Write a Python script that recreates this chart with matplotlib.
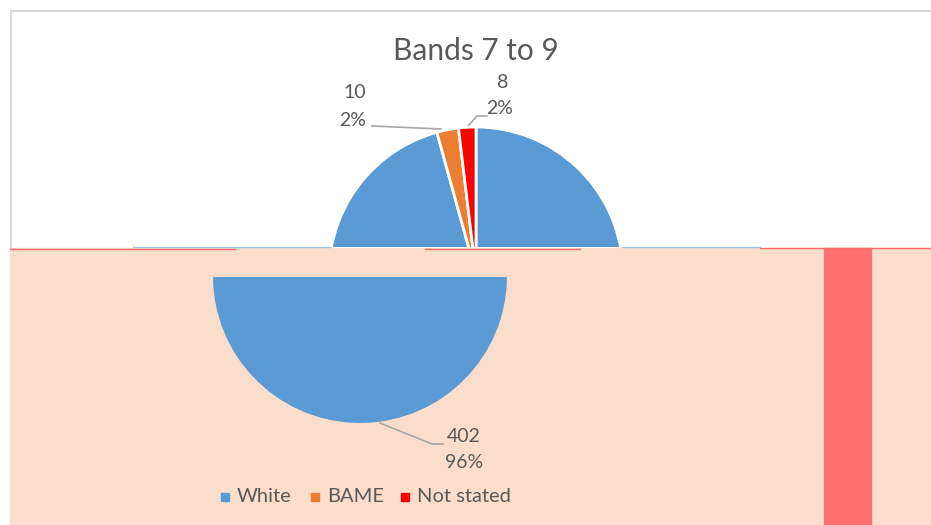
import matplotlib
matplotlib.use('Agg')
import matplotlib.pyplot as plt
from matplotlib.patches import Rectangle

# data
categories = ['White', 'BAME', 'Not stated']
counts = [402, 10, 8]
colors = ['#5B9BD5', '#ED7D31', '#FF0000']
title = 'Bands 7 to 9'

W, H = 931, 525
plt.rcParams['font.family'] = ['Lato', 'DejaVu Sans']
txt = '#595959'


def py(y):
    # pixel row -> data y
    return H - y


fig = plt.figure(figsize=(W / 100, H / 100), dpi=100)

# background axes in pixel coordinates
ax = fig.add_axes([0, 0, 1, 1])
ax.set_axis_off()
ax.set_xlim(0, W)
ax.set_ylim(0, H)

# peach lower band and red stripe
ax.add_patch(Rectangle((10, 0), W - 10, py(248), color='#FBDDCC', zorder=0))
ax.add_patch(Rectangle((824, 0), 47, py(248), color='#FF7171', zorder=1))

# chart frame (only top and left edges visible)
ax.plot([11, W], [py(11), py(11)], color='#D9D9D9', lw=1.5, zorder=1)
ax.plot([11, 11], [py(11), py(248)], color='#D9D9D9', lw=1.5, zorder=1)

# seam glitch lines
ax.plot([10, 235], [py(248.5), py(248.5)], color='#FF6B6B', lw=1, zorder=3)
ax.plot([133, 330], [py(246.5), py(246.5)], color='#9DC3E6', lw=1, zorder=3)
ax.plot([425, 580], [py(248.5), py(248.5)], color='#FF6B6B', lw=1, zorder=3)
ax.plot([622, 760], [py(246.5), py(246.5)], color='#9DC3E6', lw=1, zorder=3)
ax.plot([760, W], [py(247.5), py(247.5)], color='#FF6B6B', lw=1, zorder=3)


def pie_part(bottom_px, top_px, cx, cy, lw):
    # pie drawn in an axes that only spans rows top_px..bottom_px
    a = fig.add_axes([0, py(bottom_px) / H, 1, (bottom_px - top_px) / H])
    wedges, _ = a.pie(counts, colors=colors, startangle=90, counterclock=False,
                      center=(cx, py(cy)), radius=147,
                      wedgeprops=dict(edgecolor='white', linewidth=lw))
    for w in wedges:
        w.set_clip_on(True)
    a.set_xlim(0, W)
    a.set_ylim(py(bottom_px), py(top_px))
    a.set_aspect('auto')
    a.set_axis_off()
    return a


pie_part(247, 0, 476, 274, 2)      # upper part
pie_part(H, 277, 360, 276, 0)      # lower part, shifted left

total = sum(counts)
pct = [f'{round(100 * c / total)}%' for c in counts]

# title
ax.text(476, py(51), title, ha='center', va='center', fontsize=21.5, color=txt)

# data labels with leader lines
fs = 14
lead = dict(color='#A6A6A6', lw=1.2, zorder=4)
ax.text(355, py(93), str(counts[1]), ha='center', va='center', fontsize=fs, color=txt)
ax.text(353, py(120), pct[1], ha='center', va='center', fontsize=fs, color=txt)
ax.plot([372, 441], [py(126), py(129)], **lead)
ax.text(503, py(83), str(counts[2]), ha='center', va='center', fontsize=fs, color=txt)
ax.text(500, py(108), pct[2], ha='center', va='center', fontsize=fs, color=txt)
ax.plot([468, 477, 487], [py(126), py(116), py(116)], **lead)
ax.text(464, py(437), str(counts[0]), ha='center', va='center', fontsize=fs, color=txt)
ax.text(464, py(462), pct[0], ha='center', va='center', fontsize=fs, color=txt)
ax.plot([380, 432, 443], [py(423), py(444), py(444)], **lead)

# legend
lx = [225, 315, 405]
for x, name, col in zip(lx, categories, colors):
    ax.add_patch(Rectangle((x - 4, py(501)), 8, 8, color=col, zorder=4))
    ax.text(x + 12, py(497), name, ha='left', va='center', fontsize=14.5, color=txt)

fig.savefig('out.png', dpi=100)
